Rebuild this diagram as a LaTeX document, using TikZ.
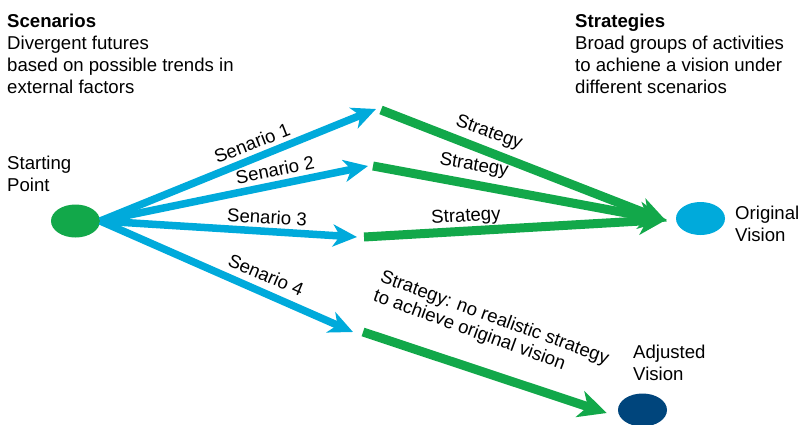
\documentclass[tikz,border=0pt]{standalone}
\usepackage{fontspec}
\setmainfont{Liberation Sans}
\usetikzlibrary{arrows.meta,shapes.geometric}
\definecolor{arrblue}{HTML}{00AADB}
\definecolor{arrgreen}{HTML}{12A84A}
\definecolor{navy}{HTML}{00457C}
\tikzset{
  txt/.style={font=\fontsize{18.6}{22}\selectfont, inner sep=0pt, align=left, text=black},
  lbl/.style={font=\fontsize{18.6}{20}\selectfont, inner sep=0pt, text=black},
  blob/.style={ellipse, minimum width=49pt, minimum height=33pt, inner sep=0pt, draw=none},
  bluearr/.style={draw=arrblue, line width=7.5pt, -{Stealth[length=24pt,width=22pt,inset=7pt]}},
  greenarr/.style={draw=arrgreen, line width=9pt, -{Stealth[length=28pt,width=27pt,inset=8pt]}}
}
\begin{document}
\begin{tikzpicture}[x=1pt,y=-1pt]
\useasboundingbox (0,0) rectangle (801,424);
% text blocks
\node[txt, anchor=north west] (scen) at (7,14) {\textbf{Scenarios}\\Divergent futures\\based on possible trends in\\external factors};
\node[txt, anchor=north west] (strat) at (575,14) {\textbf{Strategies}\\Broad groups of activities\\to achiene a vision under\\different scenarios};
\node[txt, anchor=north west] (sptxt) at (7,156) {Starting\\Point};
\node[txt, anchor=north west] (ovtxt) at (735,206) {Original\\Vision};
\node[txt, anchor=north west] (avtxt) at (633,345) {Adjusted\\Vision};
% ellipses
\node[blob, fill=arrgreen] (start) at (75.5,221) {};
\node[blob, fill=arrblue] (ov) at (700.5,218.5) {};
\node[blob, fill=navy] (av) at (642.5,410) {};
% coordinates
\coordinate (s1) at (376,109);
\coordinate (s2) at (368,166);
\coordinate (s3) at (357,237);
\coordinate (s4) at (353,332);
\coordinate (g1) at (381,110);
\coordinate (g2) at (373,166);
\coordinate (g3) at (364,237);
\coordinate (g4) at (363,332);
% blue arrows
\draw[bluearr] (start.east) -- (s1);
\draw[bluearr] (start.east) -- (s2);
\draw[bluearr] (start.east) -- (s3);
\draw[bluearr] (start.east) -- (s4);
% green arrows
\draw[greenarr] (g1) -- ([xshift=-9pt,yshift=-3pt]ov.west);
\draw[greenarr] (g2) -- ([xshift=-9pt,yshift=-2pt]ov.west);
\draw[greenarr] (g3) -- ([xshift=-9pt,yshift=-1pt]ov.west);
\draw[greenarr] (g4) -- ([xshift=-11pt,yshift=-3pt]av.west);
% labels
\node[lbl, rotate=21.5] (l1) at (252,143) {Senario 1};
\node[lbl, rotate=11] (l2) at (275,170) {Senario 2};
\node[lbl, rotate=-3] (l3) at (267,217) {Senario 3};
\node[lbl, rotate=-23] (l4) at (266,275) {Senario 4};
\node[lbl, rotate=-20] (t1) at (489,133) {Strategy};
\node[lbl, rotate=-9.5] (t2) at (474,166) {Strategy};
\node[lbl, rotate=3.5] (t3) at (466,217) {Strategy};
\node[lbl, rotate=-20, align=left] (t4) at (491,328) {Strategy: no realistic strategy\\to achieve original vision};
\end{tikzpicture}
\end{document}
